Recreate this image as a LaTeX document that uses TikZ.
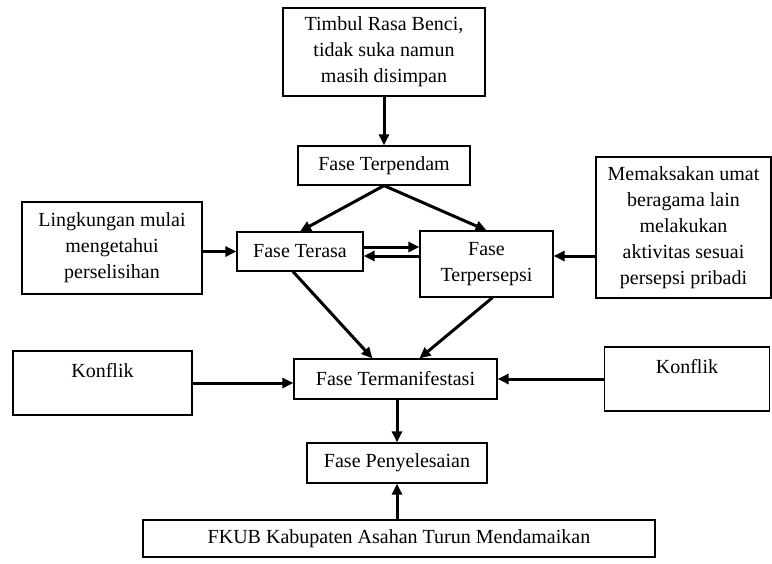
\documentclass[tikz,border=0pt]{standalone}
\usepackage{fontspec}
\setmainfont{Liberation Serif}
\usepackage{tikz}
\usetikzlibrary{arrows.meta,calc}

\begin{document}
\begin{tikzpicture}[
  x=0.5pt, y=-0.5pt,
  font=\fontsize{10}{13}\selectfont,
  box/.style={draw, line width=0.6pt, align=center, inner sep=2pt},
  arr/.style={-{Triangle[length=5.5pt,width=5pt]}, line width=1.5pt}
]
  \useasboundingbox (0,0) rectangle (772,563);

  \node[box, minimum width=101pt, minimum height=44pt] (benci) at (384,52) {Timbul Rasa Benci,\\tidak suka namun\\masih disimpan};
  \node[box, minimum width=86pt, minimum height=19.5pt] (terpendam) at (384,165.5) {Fase Terpendam};
  \node[box, minimum width=90pt, minimum height=46pt] (lingkungan) at (112,248) {Lingkungan mulai\\mengetahui\\perselisihan};
  \node[box, minimum width=63pt, minimum height=19.5pt] (terasa) at (300,251.5) {Fase Terasa};
  \node[box, minimum width=66.5pt, minimum height=33pt] (terpersepsi) at (486.5,264) {Fase\\Terpersepsi};
  \node[box, minimum width=87.5pt, minimum height=70.5pt] (memaksakan) at (683.5,227.5) {Memaksakan umat\\beragama lain\\melakukan\\aktivitas sesuai\\persepsi pribadi};
  \node[box, minimum width=89.5pt, minimum height=32pt] (konflikL) at (102.5,383) {Konflik\\\phantom{K}};
  \node[box, minimum width=101.5pt, minimum height=20pt] (termanif) at (395.5,379) {Fase Termanifestasi};
  \node[box, minimum width=82.5pt, minimum height=32pt] (konflikR) at (687,379) {Konflik\\\phantom{K}};
  \node[box, minimum width=90pt, minimum height=20pt] (penyel) at (397,463) {Fase Penyelesaian};
  \node[box, minimum width=256pt, minimum height=18.5pt] (fkub) at (399,538.5) {FKUB Kabupaten Asahan Turun Mendamaikan};

  \coordinate (hi) at ($(terasa.east)+(0,-4.5)$);
  \coordinate (lo) at ($(terasa.east)+(0,4.5)$);

  \draw[arr] (benci) -- (terpendam);
  \draw[arr] (terpendam.south) -- (terasa.north);
  \draw[arr] (terpendam.south) -- (terpersepsi.north);
  \draw[arr] (lingkungan.east |- terasa.west) -- (terasa.west);
  \draw[arr] (hi) -- (hi -| terpersepsi.west);
  \draw[arr] (lo -| terpersepsi.west) -- (lo);
  \draw[arr] (memaksakan.west |- lo) -- (terpersepsi.east |- lo);
  \draw[arr] ($(terasa.south)+(-7,0)$) -- ($(termanif.north)+(-23,0)$);
  \draw[arr] ($(terpersepsi.south)+(6,0)$) -- ($(termanif.north)+(24,0)$);
  \draw[arr] (konflikL.east) -- (termanif.west |- konflikL.east);
  \draw[arr] (konflikR.west) -- (termanif.east);
  \draw[arr] (termanif.south -| penyel) -- (penyel.north);
  \draw[arr] (fkub.north -| penyel) -- (penyel.south);
\end{tikzpicture}
\end{document}
